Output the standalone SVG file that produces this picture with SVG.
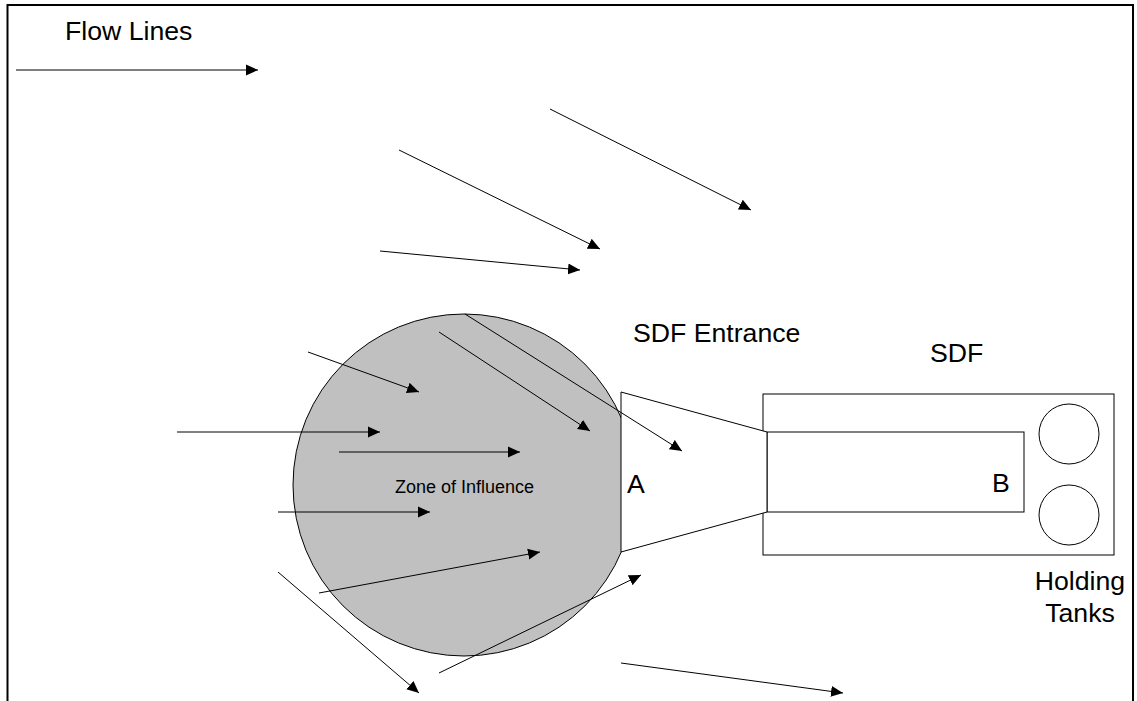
<svg xmlns="http://www.w3.org/2000/svg" width="1137" height="701" viewBox="0 0 1137 701">
  <style>
    .ln { stroke: #000; stroke-width: 1; fill: none; }
    .shape { stroke: #000; stroke-width: 1; }
    .lbl { font-family: "Liberation Sans", Arial, sans-serif; font-size: 26.67px; fill: #000; }
    .small { font-family: "Liberation Sans", Arial, sans-serif; font-size: 18px; fill: #000; }
  </style>
  <defs>
    <marker id="ah" markerUnits="userSpaceOnUse" markerWidth="12" markerHeight="12" viewBox="0 0 12 12" refX="12" refY="6" orient="auto">
      <path d="M0,0.5 L12,6 L0,11.5 Z" fill="#000"/>
    </marker>
  </defs>
  <rect x="0" y="0" width="1137" height="701" fill="#fff"/>
  <g id="frame">
    <path d="M7.5,701 V5 H1133 V701" fill="none" stroke="#000" stroke-width="2"/>
  </g>
  <g id="zone">
    <circle cx="464" cy="485" r="171" fill="#c0c0c0" class="shape"/>
    <text class="small" x="395" y="493">Zone of Influence</text>
  </g>
  <g id="sdf">
    <rect x="763" y="394" width="351" height="161" fill="#fff" class="shape"/>
    <rect x="767" y="432" width="257" height="80" fill="#fff" class="shape"/>
    <text class="lbl" x="992" y="492">B</text>
  </g>
  <g id="tanks">
    <circle cx="1069" cy="434" r="30" fill="#fff" class="shape"/>
    <circle cx="1069" cy="515" r="30" fill="#fff" class="shape"/>
  </g>
  <g id="entrance">
    <polygon points="621,392 767,432 767,512 621,552" fill="#fff" class="shape"/>
    <text class="lbl" x="627" y="493">A</text>
  </g>
  <g id="connectors">
    <line class="ln" marker-end="url(#ah)" x1="16" y1="70" x2="258" y2="70"/>
    <line class="ln" marker-end="url(#ah)" x1="550" y1="109" x2="751" y2="210"/>
    <line class="ln" marker-end="url(#ah)" x1="399" y1="150" x2="600" y2="249"/>
    <line class="ln" marker-end="url(#ah)" x1="380" y1="251" x2="580" y2="270"/>
    <line class="ln" marker-end="url(#ah)" x1="308" y1="352" x2="419" y2="392"/>
    <line class="ln" marker-end="url(#ah)" x1="177" y1="432" x2="380" y2="432"/>
    <line class="ln" marker-end="url(#ah)" x1="339" y1="452" x2="520" y2="452"/>
    <line class="ln" marker-end="url(#ah)" x1="278" y1="512" x2="430" y2="512"/>
    <line class="ln" marker-end="url(#ah)" x1="319" y1="593" x2="540" y2="552"/>
    <line class="ln" marker-end="url(#ah)" x1="439" y1="332" x2="590" y2="431"/>
    <line class="ln" marker-end="url(#ah)" x1="465" y1="314" x2="682" y2="451"/>
    <line class="ln" marker-end="url(#ah)" x1="278" y1="572" x2="419" y2="693"/>
    <line class="ln" marker-end="url(#ah)" x1="439" y1="673" x2="641" y2="575"/>
    <line class="ln" marker-end="url(#ah)" x1="621" y1="663" x2="843" y2="693"/>
  </g>
  <g id="labels">
    <text class="lbl" x="65" y="40">Flow Lines</text>
    <text class="lbl" x="633" y="342">SDF Entrance</text>
    <text class="lbl" x="930" y="362">SDF</text>
    <text class="lbl" x="1080" y="590" text-anchor="middle">Holding</text>
    <text class="lbl" x="1080" y="622" text-anchor="middle">Tanks</text>
  </g>
</svg>
